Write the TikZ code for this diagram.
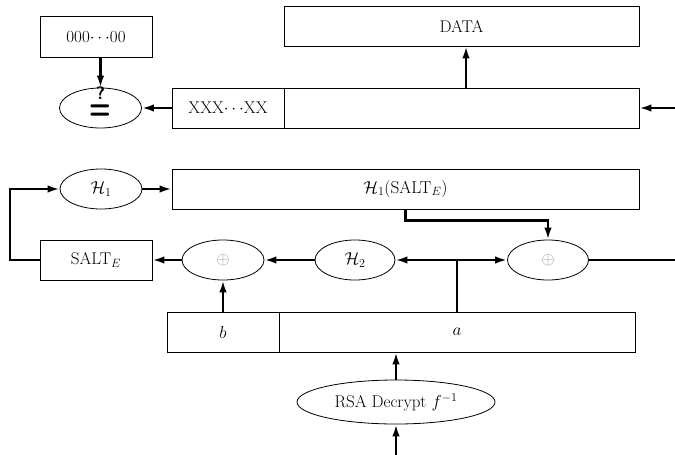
\documentclass[tikz,border=0pt]{standalone}
\usetikzlibrary{shapes.geometric,arrows.meta}
\begin{document}
\begin{tikzpicture}[x=1pt,y=-1pt, font=\fontsize{17}{20}\selectfont,
 box/.style={draw, line width=0.8pt, rectangle, inner sep=0pt, minimum height=40pt},
 ell/.style={draw, ellipse, line width=0.8pt, inner sep=0pt, minimum width=82pt, minimum height=40pt},
 conn/.style={line width=2.3pt, -{Latex[length=12pt,width=7.5pt]}},
 plain/.style={line width=2.3pt},
 xor/.style={text=gray!80},
 sym/.style={inner sep=0pt, outer sep=0pt, align=center, font=\sffamily\bfseries}]
\useasboundingbox (0,0) rectangle (675,455);
% top row
\node[box, minimum width=112pt, minimum height=41pt] (zero) at (96,37) {000$\cdots$00};
\node[box, minimum width=355pt] (data) at (461.5,26) {DATA};
\node[box, minimum width=112pt] (xxx) at (228,108) {XXX$\cdots$XX};
\node[box, minimum width=355pt] (big) at (461.5,108) {};
\node[ell] (eq) at (100.5,108) {};
\node[sym] (eqt) at (100.5,103) {\fontsize{18}{20}\selectfont ?\\[4pt]\fontsize{24}{20}\selectfont \scalebox{1.05}[1.5]{=}};
% middle rows
\node[ell] (h1) at (101,189) {$\mathcal{H}_1$};
\node[box, minimum width=467pt] (h1s) at (405.5,189) {$\mathcal{H}_1(\mathrm{SALT}_E)$};
\node[box, minimum width=112pt] (salt) at (96,260) {SALT$_E$};
\node[ell, xor] (x1) at (223,260) {$\oplus$};
\node[ell, minimum width=80pt] (h2) at (355,260) {$\mathcal{H}_2$};
\node[ell, xor, minimum width=81pt] (x2) at (548,260) {$\oplus$};
% bottom
\node[box, minimum width=112pt] (b) at (223,332) {$b$};
\node[box, minimum width=356pt] (a) at (457,332) {$a$};
\node[ell, minimum width=198pt, minimum height=44pt] (rsa) at (396,402) {RSA Decrypt $f^{-1}$};
% coordinates
\coordinate (rin) at (675,108);
\coordinate (lft) at (10,0);
\coordinate (j) at (457,260);
\coordinate (rout) at (675,260);
\coordinate (bot) at (396,455);
% connectors
\draw[conn] (eq.north |- zero.south) -- (eq.north);
\draw[conn] (xxx.west) -- (eq.east);
\draw[conn] ([xshift=4.5pt]big.north) -- ([xshift=4.5pt]data.south);
\draw[conn] (rin) -- (big.east);
\draw[conn] (salt.west) -- (salt.west -| lft) |- (h1.west);
\draw[conn] (h1.east) -- (h1s.west);
\draw[conn] (h1s.south) -- ++(0,11) -| (x2.north);
\draw[plain] (a.north) -- (j);
\draw[conn] (j) -- (h2.east);
\draw[conn] (j) -- (x2.west);
\draw[conn] (h2.west) -- (x1.east);
\draw[conn] (x1.west) -- (salt.east);
\draw[plain] (x2.east) -- (rout);
\draw[conn] (b.north) -- (x1.south);
\draw[conn] (rsa.north) -- (rsa.north |- a.south);
\draw[conn] (bot) -- (rsa.south);
\end{tikzpicture}
\end{document}
